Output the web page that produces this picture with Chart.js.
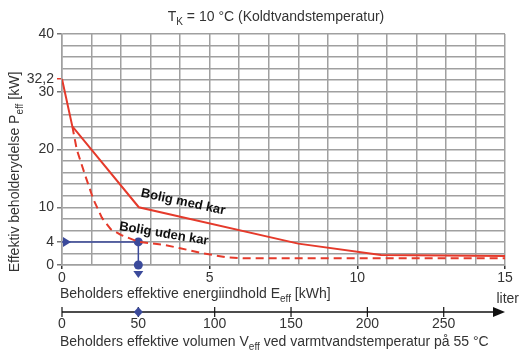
<!DOCTYPE html>
<html>
<head>
<meta charset="utf-8">
<script src="https://cdn.jsdelivr.net/npm/chart.js@4.4.1/dist/chart.umd.min.js"></script>
<style>
  html, body { margin: 0; padding: 0; background: #ffffff; }
  #wrap { width: 521px; height: 350px; position: relative; }
</style>
</head>
<body>
<div id="wrap"><canvas id="c"></canvas></div>
<script>
// Effektiv beholderydelse som funktion af beholderens energiindhold
const withTubEnergy = [0, 0.35, 2.6, 8.0, 10.8, 15];
const withTubPower  = [32.2, 24.0, 10.0, 3.7, 1.75, 1.55];
const noTubEnergy = [0.35, 0.5, 0.78, 1.06, 1.35, 1.65, 2.0, 2.6, 3.5, 4.0, 4.8, 5.6, 6.2, 15];
const noTubPower  = [24.0, 20.0, 15.6, 11.4, 8.2, 6.2, 5.2, 4.0, 3.45, 2.9, 2.0, 1.3, 1.15, 1.15];
const yTickLabels = [0, 4, 10, 20, 30, 32.2, 40];
const xTickLabels = [0, 5, 10, 15];
const literTicks  = [0, 50, 100, 150, 200, 250];
const kwhPerLiter = 0.0517;      // 55 °C varmt vand, 10 °C koldt vand
const exampleLiter = 50;
const examplePower = 4;

const RED = '#e53a2b';
const BLUE = '#3b4a9b';
const GRID = '#a0a0a0';
const TEXT = '#333333';
const FONT = "'Liberation Sans', Arial, sans-serif";

const pts = (xs, ys) => xs.map((x, i) => ({ x: x, y: ys[i] }));
const exampleEnergy = exampleLiter * kwhPerLiter;

// text with a subscript part: [normal, sub, normal]
function drawSubText(ctx, parts, x, y, size, align) {
  const sub = Math.round(size * 0.72);
  const w0 = (ctx.font = size + 'px ' + FONT, ctx.measureText(parts[0]).width);
  const w1 = (ctx.font = sub + 'px ' + FONT, ctx.measureText(parts[1]).width);
  const w2 = (ctx.font = size + 'px ' + FONT, ctx.measureText(parts[2]).width);
  let sx = x;
  if (align === 'center') sx = x - (w0 + w1 + w2) / 2;
  ctx.textAlign = 'left';
  ctx.textBaseline = 'alphabetic';
  ctx.font = size + 'px ' + FONT;
  ctx.fillText(parts[0], sx, y);
  ctx.font = sub + 'px ' + FONT;
  ctx.fillText(parts[1], sx + w0, y + size * 0.28);
  ctx.font = size + 'px ' + FONT;
  ctx.fillText(parts[2], sx + w0 + w1, y);
}

const decor = {
  id: 'decor',
  afterDatasetsDraw(chart) {
    const ctx = chart.ctx;
    const xs = chart.scales.x, ys = chart.scales.y;
    const px = xs.getPixelForValue(exampleEnergy);
    const py = ys.getPixelForValue(examplePower);
    const x0 = xs.getPixelForValue(0);
    const y0 = ys.getPixelForValue(0);

    ctx.save();
    // arrow heads of the example reading
    ctx.fillStyle = BLUE;
    ctx.beginPath();
    ctx.moveTo(x0 + 1, py - 5);
    ctx.lineTo(x0 + 9, py);
    ctx.lineTo(x0 + 1, py + 5);
    ctx.closePath();
    ctx.fill();
    ctx.beginPath();
    ctx.moveTo(px - 5, y0 + 6);
    ctx.lineTo(px + 5, y0 + 6);
    ctx.lineTo(px, y0 + 13);
    ctx.closePath();
    ctx.fill();

    // curve names
    ctx.fillStyle = '#111111';
    ctx.font = 'bold 13px ' + FONT;
    ctx.textAlign = 'center';
    ctx.textBaseline = 'middle';
    [['Bolig med kar', 4.1, 10.9, 12], ['Bolig uden kar', 3.45, 5.4, 9.5]].forEach(l => {
      ctx.save();
      ctx.translate(xs.getPixelForValue(l[1]), ys.getPixelForValue(l[2]));
      ctx.rotate(l[3] * Math.PI / 180);
      ctx.fillText(l[0], 0, 0);
      ctx.restore();
    });

    ctx.fillStyle = TEXT;
    // title
    drawSubText(ctx, ['T', 'K', ' = 10 °C (Koldtvandstemperatur)'], 276, 21, 14, 'center');

    // y axis title
    ctx.save();
    ctx.translate(19, 172);
    ctx.rotate(-Math.PI / 2);
    drawSubText(ctx, ['Effektiv beholderydelse P', 'eff', ' [kW]'], 0, 0, 14, 'center');
    ctx.restore();

    // x axis title
    drawSubText(ctx, ['Beholders effektive energiindhold E', 'eff', ' [kWh]'], 60, 298, 14, 'left');

    // volume axis
    const ay = 312;
    const right = xs.getPixelForValue(15);
    ctx.strokeStyle = '#111111';
    ctx.lineWidth = 1.5;
    ctx.beginPath();
    ctx.moveTo(x0, ay);
    ctx.lineTo(right - 8, ay);
    ctx.stroke();
    ctx.fillStyle = '#111111';
    ctx.beginPath();
    ctx.moveTo(right - 12, ay - 5);
    ctx.lineTo(right, ay);
    ctx.lineTo(right - 12, ay + 5);
    ctx.closePath();
    ctx.fill();
    ctx.lineWidth = 1.2;
    ctx.font = '14px ' + FONT;
    ctx.textAlign = 'center';
    ctx.textBaseline = 'alphabetic';
    ctx.fillStyle = TEXT;
    literTicks.forEach(v => {
      const tx = xs.getPixelForValue(v * kwhPerLiter);
      ctx.beginPath();
      ctx.moveTo(tx, ay - 5);
      ctx.lineTo(tx, ay + 5);
      ctx.stroke();
      ctx.fillText(String(v), tx, 328);
    });
    ctx.textAlign = 'right';
    ctx.fillText('liter', 519, 303);
    // example volume marker
    ctx.fillStyle = BLUE;
    ctx.beginPath();
    ctx.moveTo(px, ay - 5);
    ctx.lineTo(px + 4.5, ay);
    ctx.lineTo(px, ay + 5);
    ctx.lineTo(px - 4.5, ay);
    ctx.closePath();
    ctx.fill();

    ctx.fillStyle = TEXT;
    drawSubText(ctx, ['Beholders effektive volumen V', 'eff', ' ved varmtvandstemperatur på 55 °C'], 60, 346, 14, 'left');
    ctx.restore();
  }
};

new Chart(document.getElementById('c'), {
  type: 'line',
  data: {
    datasets: [
      {
        label: 'Bolig med kar',
        data: pts(withTubEnergy, withTubPower),
        borderColor: RED, borderWidth: 2, pointRadius: 0, tension: 0, fill: false
      },
      {
        label: 'Bolig uden kar',
        data: pts(noTubEnergy, noTubPower),
        borderColor: RED, borderWidth: 2, borderDash: [8, 5], pointRadius: 0, tension: 0, fill: false
      },
      {
        label: 'Eksempel',
        data: [{ x: 0, y: examplePower }, { x: exampleEnergy, y: examplePower }, { x: exampleEnergy, y: 0 }],
        borderColor: BLUE, borderWidth: 1.5, backgroundColor: BLUE,
        pointBackgroundColor: BLUE, pointBorderWidth: 0,
        pointRadius: [0, 4.5, 4.5], tension: 0, fill: false, clip: false
      }
    ]
  },
  options: {
    responsive: true,
    maintainAspectRatio: false,
    animation: false,
    layout: { padding: { top: 34, right: 16, left: 0, bottom: 0 } },
    plugins: { legend: { display: false }, tooltip: { enabled: false } },
    scales: {
      x: {
        type: 'linear', min: 0, max: 15,
        afterFit: s => { s.height = 85; },
        afterBuildTicks: s => { s.ticks = Array.from({ length: 16 }, (_, i) => ({ value: i })); },
        ticks: {
          autoSkip: false, maxRotation: 0, padding: 1, color: TEXT,
          font: { family: FONT, size: 14 },
          callback: v => xTickLabels.includes(v) ? String(v) : ''
        },
        grid: {
          color: GRID, lineWidth: 1.5, tickLength: 4,
          tickColor: c => xTickLabels.includes(c.tick.value) ? '#333333' : 'rgba(0,0,0,0)'
        },
        border: { color: GRID, width: 1.5 }
      },
      y: {
        type: 'linear', min: 0, max: 40,
        afterFit: s => { s.width = 62; },
        afterBuildTicks: s => {
          const t = [];
          for (let v = 0; v <= 40; v += 2) t.push(v);
          t.push(32.2);
          t.sort((a, b) => a - b);
          s.ticks = t.map(v => ({ value: v }));
        },
        ticks: {
          autoSkip: false, padding: 3, color: TEXT,
          font: { family: FONT, size: 14 },
          callback: v => yTickLabels.includes(v) ? String(v).replace('.', ',') : ''
        },
        grid: {
          color: c => c.tick && c.tick.value === 32.2 ? 'rgba(0,0,0,0)' : GRID,
          lineWidth: 1.5, tickLength: 5,
          tickColor: c => !c.tick ? GRID : (c.tick.value === 32.2 ? RED : (yTickLabels.includes(c.tick.value) ? '#777777' : 'rgba(0,0,0,0)'))
        },
        border: { color: GRID, width: 1.5 }
      }
    }
  },
  plugins: [decor]
});
</script>
</body>
</html>
